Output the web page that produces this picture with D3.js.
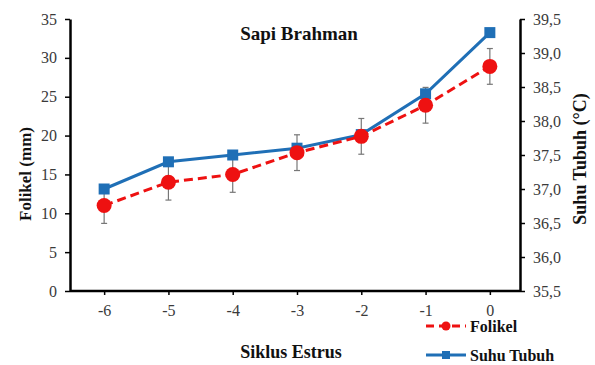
<!DOCTYPE html>
<html><head><meta charset="utf-8">
<script src="https://cdn.jsdelivr.net/npm/d3@7"></script>
<style>body{margin:0;background:#fff}svg{display:block}
svg text{font-family:'Liberation Serif','Times New Roman',serif !important;}</style>
</head><body>
<script>
const categories = [-6, -5, -4, -3, -2, -1, 0];
const folikel = [11, 14, 15, 17.8, 19.9, 23.9, 28.9];
const folikelErr = [2.3, 2.3, 2.3, 2.3, 2.3, 2.3, 2.3];
const suhu = [37.0, 37.4, 37.5, 37.6, 37.8, 38.4, 39.3];
const leftTicks = [0, 5, 10, 15, 20, 25, 30, 35];
const rightTicks = [35.5, 36.0, 36.5, 37.0, 37.5, 38.0, 38.5, 39.0, 39.5];

const W = 595, H = 365;
const m = {l: 70, r: 75, t: 19, b: 74};
const svg = d3.select("body").append("svg").attr("width", W).attr("height", H);
const x = d3.scalePoint().domain(categories).range([m.l + 2, W - m.r + 2]).padding(0.5);
const yL = d3.scaleLinear().domain([0, 35]).range([H - m.b, m.t]);
const yR = d3.scaleLinear().domain([35.5, 39.5]).range([H - m.b, m.t]);
const font = "'Liberation Serif', 'Times New Roman', serif";

function styleAxis(g) {
  g.attr("font-family", null);
  g.select(".domain").attr("stroke", "#000").attr("stroke-width", 2.5);
  g.selectAll(".tick line").attr("stroke", "#000").attr("stroke-width", 1.5);
  g.selectAll(".tick text").style("font-family", font).style("font-size", "16px").attr("fill", "#3a3a3a");
}
const fmt = d => d.toFixed(1).replace(".", ",");

svg.append("g").attr("transform", `translate(0,${H - m.b})`)
  .call(d3.axisBottom(x).tickSizeInner(4).tickSizeOuter(0).tickPadding(10))
  .call(styleAxis)
  .call(g => g.select(".domain").attr("d", `M${m.l},0H${W - m.r}`));
svg.append("g").attr("transform", `translate(${m.l},0)`)
  .call(d3.axisLeft(yL).tickValues(leftTicks).tickSizeInner(5).tickSizeOuter(0).tickPadding(8))
  .call(styleAxis);
svg.append("g").attr("transform", `translate(${W - m.r},0)`)
  .call(d3.axisRight(yR).tickValues(rightTicks).tickFormat(fmt).tickSizeInner(5).tickSizeOuter(0).tickPadding(8))
  .call(styleAxis);

const red = "#ee1111", blue = "#1f6fb6";

// error bars
const eb = svg.append("g").attr("stroke", "#777").attr("stroke-width", 1.2);
categories.forEach((c, i) => {
  const cx = x(c), y1 = yL(folikel[i] - folikelErr[i]), y2 = yL(folikel[i] + folikelErr[i]);
  eb.append("line").attr("x1", cx).attr("x2", cx).attr("y1", y1).attr("y2", y2);
  eb.append("line").attr("x1", cx - 3).attr("x2", cx + 3).attr("y1", y1).attr("y2", y1);
  eb.append("line").attr("x1", cx - 3).attr("x2", cx + 3).attr("y1", y2).attr("y2", y2);
});

// suhu line
svg.append("path").datum(categories.map((c, i) => [x(c), yR(suhu[i])]))
  .attr("d", d3.line()).attr("fill", "none").attr("stroke", blue).attr("stroke-width", 3);
svg.append("g").selectAll("rect").data(categories).join("rect")
  .attr("x", d => x(d) - 5.5).attr("y", (d, i) => yR(suhu[i]) - 5.5)
  .attr("width", 11).attr("height", 11).attr("fill", blue);

// folikel line
svg.append("path").datum(categories.map((c, i) => [x(c), yL(folikel[i])]))
  .attr("d", d3.line()).attr("fill", "none").attr("stroke", red).attr("stroke-width", 3)
  .attr("stroke-dasharray", "9,5");
svg.append("g").selectAll("circle").data(categories).join("circle")
  .attr("cx", d => x(d)).attr("cy", (d, i) => yL(folikel[i])).attr("r", 7.5).attr("fill", red);

function txt(sel) { return sel.style("font-family", font).attr("font-weight", "bold").attr("fill", "#111"); }
// title and labels
txt(svg.append("text")).attr("x", 299).attr("y", 40).attr("text-anchor", "middle")
  .style("font-size", "19px").text("Sapi Brahman");
txt(svg.append("text")).attr("x", 291).attr("y", 358).attr("text-anchor", "middle")
  .style("font-size", "18px").text("Siklus Estrus");
txt(svg.append("text")).attr("transform", `translate(31,174) rotate(-90)`)
  .attr("text-anchor", "middle").style("font-size", "17px").text("Folikel (mm)");
txt(svg.append("text")).attr("transform", `translate(586,159) rotate(-90)`)
  .attr("text-anchor", "middle").style("font-size", "18px").text("Suhu Tubuh (°C)");

// legend
const lg = svg.append("g");
lg.append("line").attr("x1", 426).attr("x2", 466).attr("y1", 326).attr("y2", 326)
  .attr("stroke", red).attr("stroke-width", 3).attr("stroke-dasharray", "8,5");
lg.append("circle").attr("cx", 446).attr("cy", 326).attr("r", 4.5).attr("fill", red);
txt(lg.append("text")).attr("x", 470).attr("y", 332).style("font-size", "16px").text("Folikel");
lg.append("line").attr("x1", 426).attr("x2", 466).attr("y1", 355).attr("y2", 355)
  .attr("stroke", blue).attr("stroke-width", 3);
lg.append("rect").attr("x", 442).attr("y", 351).attr("width", 8).attr("height", 8).attr("fill", blue);
txt(lg.append("text")).attr("x", 470).attr("y", 361).style("font-size", "16px").text("Suhu Tubuh");
</script>
</body></html>
